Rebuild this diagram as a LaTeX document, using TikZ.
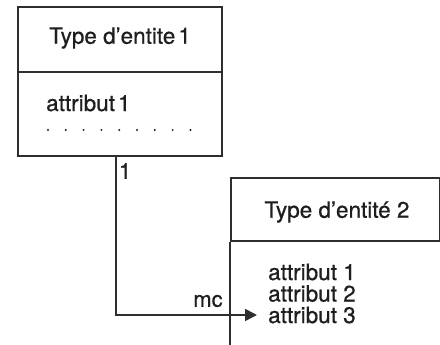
\documentclass[tikz,border=0pt]{standalone}
\usepackage{fontspec}
\setmainfont[FakeBold=0.7]{TeX Gyre Heros}
\usetikzlibrary{arrows.meta}
\definecolor{ink}{HTML}{1E1E1E}
\definecolor{edge}{HTML}{2E2E2E}
\begin{document}
\begin{tikzpicture}[x=1pt,y=-1pt,
  boxpart/.style={draw=edge, line width=1.9pt, rectangle, inner sep=0pt, anchor=north west},
  txt/.style={text=ink, font=\fontsize{22.5}{21.5}\selectfont, inner sep=0pt},
  lbl/.style={text=ink, font=\fontsize{22}{22}\selectfont, inner sep=0pt},
  link/.style={draw=edge, line width=1.7pt},
  tip/.style={-{Triangle[length=12pt,width=12pt]}}]
\useasboundingbox (0,0) rectangle (440,345);
\clip (0,0) rectangle (440,345);
% Entity type 1
\node[boxpart, minimum width=204pt, minimum height=65pt] (h1) at (17,6) {};
\node[boxpart, minimum width=204pt, minimum height=84pt] (b1) at (17,71) {};
\node[txt] (t1) at (120,38) {Type d’entite\kern3pt 1};
\node[txt, anchor=west] (a11) at (46,103) {attribut\kern3pt 1};
\foreach \i in {0,...,8} {\fill[ink] (48+\i*17.8,130) circle (1.1pt);}
% Entity type 2
\node[boxpart, minimum width=209pt, minimum height=63pt] (h2) at (230,177) {};
\draw[draw=edge, line width=1.9pt] (h2.south west) -- ++(0,120);
\draw[draw=gray!70, line width=1.4pt] (h2.south east) -- ++(0,120);
\node[txt] (t2) at (337,212) {Type d’entité 2};
\node[txt, anchor=west] (a21) at (268,272) {attribut 1};
\node[txt, anchor=west] (a22) at (268,293.5) {attribut 2};
\node[txt, anchor=west] (a23) at (268,315) {attribut 3};
% Relationship
\coordinate (s) at (116,155);
\coordinate (tipend) at (257,315);
\draw[link, tip] (s) |- (tipend);
\node[lbl] (l1) at (125,171) {1};
\node[lbl] (lmc) at (208,301) {mc};
\end{tikzpicture}
\end{document}
